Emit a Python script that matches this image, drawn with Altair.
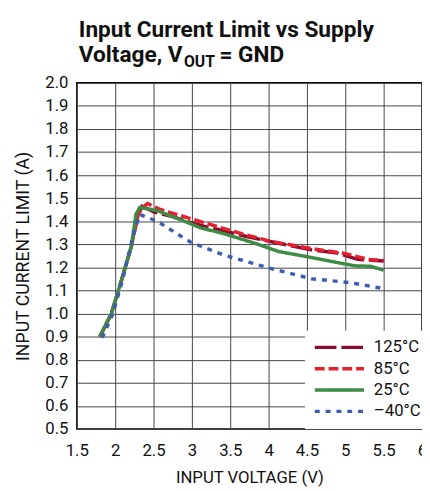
import altair as alt
import pandas as pd

# ---- data ----
series_names = ["125°C", "85°C", "25°C", "–40°C"]

x_125 = [1.80, 1.95, 2.06, 2.21, 2.29, 2.35, 2.42, 2.51, 2.75, 2.98, 3.20, 3.41, 3.70, 4.13, 4.56, 4.90, 5.16, 5.50]
y_125 = [0.90, 1.00, 1.12, 1.29, 1.425, 1.465, 1.455, 1.44, 1.42, 1.395, 1.375, 1.36, 1.335, 1.305, 1.276, 1.262, 1.235, 1.228]

x_85 = [1.80, 1.95, 2.06, 2.21, 2.30, 2.36, 2.42, 2.60, 3.00, 3.50, 4.00, 4.50, 5.00, 5.30, 5.50]
y_85 = [0.90, 1.00, 1.12, 1.29, 1.43, 1.46, 1.477, 1.45, 1.41, 1.36, 1.315, 1.285, 1.26, 1.235, 1.23]

x_25 = [1.80, 1.95, 2.06, 2.21, 2.27, 2.32, 2.55, 2.98, 3.11, 3.41, 3.83, 4.13, 4.56, 4.82, 5.12, 5.33, 5.50]
y_25 = [0.90, 1.00, 1.12, 1.29, 1.43, 1.46, 1.446, 1.39, 1.372, 1.347, 1.304, 1.269, 1.243, 1.226, 1.207, 1.205, 1.188]

x_m40 = [1.83, 1.97, 2.10, 2.22, 2.32, 2.55, 2.98, 3.41, 3.71, 4.00, 4.56, 5.07, 5.50]
y_m40 = [0.895, 1.00, 1.15, 1.32, 1.43, 1.40, 1.31, 1.254, 1.226, 1.198, 1.151, 1.134, 1.108]

x_ticks = [1.5, 2, 2.5, 3, 3.5, 4, 4.5, 5, 5.5, 6]
y_ticks = [0.5, 0.6, 0.7, 0.8, 0.9, 1.0, 1.1, 1.2, 1.3, 1.4, 1.5, 1.6, 1.7, 1.8, 1.9, 2.0]

colors = ["#8c0b2e", "#e3202e", "#3d8b45", "#3d5db3"]
dashes = [[22, 5], [10, 4], [1, 0], [5, 6]]

title_line1 = "Input Current Limit vs Supply"
title_line2a = "Voltage, V"
title_sub = "OUT"
title_line2b = "= GND"

rows = []
for name, xs, ys in zip(series_names, [x_125, x_85, x_25, x_m40], [y_125, y_85, y_25, y_m40]):
    for i, (xv, yv) in enumerate(zip(xs, ys)):
        rows.append({"series": name, "v": xv, "i": yv, "order": i})
df = pd.DataFrame(rows)

FONT = "Roboto"

lines = alt.Chart(df).mark_line(strokeWidth=3.5, clip=True).encode(
    x=alt.X("v:Q", scale=alt.Scale(domain=[1.5, 6], nice=False, zero=False),
            axis=alt.Axis(values=x_ticks, format="~g", title="INPUT VOLTAGE (V)",
                          grid=True, ticks=False, domain=False, labelPadding=14,
                          titlePadding=11, titleFontSize=17, labelFlush=False)),
    y=alt.Y("i:Q", scale=alt.Scale(domain=[0.5, 2.0], nice=False, zero=False),
            axis=alt.Axis(values=y_ticks, format=".1f", title="INPUT CURRENT LIMIT (A)",
                          grid=True, ticks=False, domain=False, labelPadding=9,
                          titlePadding=13, titleFontSize=18)),
    color=alt.Color("series:N", scale=alt.Scale(domain=series_names, range=colors),
                    legend=alt.Legend(title=None, orient="none", legendX=232, legendY=252,
                                      fillColor="white", padding=8, symbolType="stroke",
                                      symbolSize=2500, symbolStrokeWidth=3.5,
                                      clipHeight=18, rowPadding=3.7,
                                      labelFontSize=17, labelFont=FONT, labelColor="#111",
                                      labelOffset=8)),
    strokeDash=alt.StrokeDash("series:N", scale=alt.Scale(domain=series_names, range=dashes)),
    order="order:Q",
)

one = pd.DataFrame({"k": [0]})
t1 = alt.Chart(one).mark_text(align="left", baseline="alphabetic", font=FONT, fontSize=23,
                              fontWeight="bold", color="#111").encode(
    x=alt.value(2), y=alt.value(-47), text=alt.value(title_line1))
t2 = alt.Chart(one).mark_text(align="left", baseline="alphabetic", font=FONT, fontSize=23,
                              fontWeight="bold", color="#111").encode(
    x=alt.value(2), y=alt.value(-21), text=alt.value(title_line2a))
t3 = alt.Chart(one).mark_text(align="left", baseline="alphabetic", font=FONT, fontSize=16,
                              fontWeight="bold", color="#111").encode(
    x=alt.value(109), y=alt.value(-16), text=alt.value(title_sub))
t4 = alt.Chart(one).mark_text(align="left", baseline="alphabetic", font=FONT, fontSize=23,
                              fontWeight="bold", color="#111").encode(
    x=alt.value(145), y=alt.value(-21), text=alt.value(title_line2b))

chart = alt.layer(lines, t1, t2, t3, t4).properties(
    width=351, height=352,
    background="white",
    autosize=alt.AutoSizeParams(type="none"),
    padding={"left": 70, "top": 72, "right": 0, "bottom": 60},
).configure_view(stroke="#000", strokeWidth=1.5).configure_axis(
    gridColor="#444", gridWidth=1, gridOpacity=1,
    labelFont=FONT, labelFontSize=17, labelColor="#111",
    titleFont=FONT, titleFontWeight="normal", titleColor="#111",
)

chart.save("out.html", embed_options={"renderer": "svg", "actions": False})
